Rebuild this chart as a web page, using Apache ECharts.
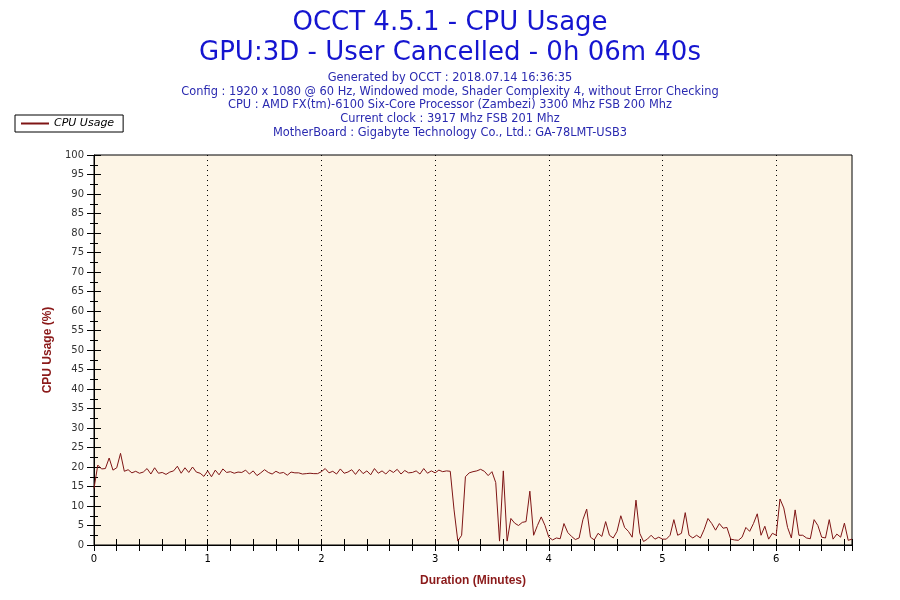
<!DOCTYPE html>
<html>
<head>
<meta charset="utf-8">
<script src="https://cdn.jsdelivr.net/npm/echarts@6/dist/echarts.min.js"></script>
<style>
  html, body { margin: 0; padding: 0; background: #fff; }
  #main { width: 900px; height: 600px; }
</style>
</head>
<body>
<div id="main"></div>
<script>
// OCCT CPU usage, one sample every 2 s, 0..400 s
var sampleStep = 2; // seconds
var cpuUsage = [
  14.5, 20.5, 19.5, 19.6, 22.3, 19.2, 19.8, 23.5, 18.9, 19.3,
  18.5, 18.9, 18.4, 18.7, 19.6, 18.2, 19.8, 18.4, 18.6, 18.1,
  18.7, 19.0, 20.2, 18.4, 19.8, 18.6, 20.0, 18.7, 18.4, 17.6,
  19.0, 17.5, 19.2, 18.0, 19.5, 18.6, 18.8, 18.4, 18.7, 18.6,
  19.2, 18.2, 19.0, 17.8, 18.5, 19.3, 18.6, 18.2, 18.9, 18.4,
  18.6, 17.9, 18.7, 18.5, 18.5, 18.2, 18.3, 18.4, 18.3, 18.3,
  18.8, 19.6, 18.5, 18.9, 18.2, 19.5, 18.4, 18.7, 19.3, 18.1,
  19.4, 18.3, 19.0, 18.0, 19.6, 18.4, 19.0, 18.2, 19.2, 18.6,
  19.4, 18.2, 19.1, 18.5, 18.6, 19.0, 18.2, 19.6, 18.4, 19.0,
  18.5, 19.2, 18.8, 19.0, 18.9, 9.0, 1.0, 2.5, 17.5, 18.5,
  18.8, 19.0, 19.4, 18.9, 17.8, 18.8, 16.0, 1.0, 19.0, 1.0,
  6.8, 5.6, 5.0, 5.8, 6.0, 13.8, 2.5, 5.0, 7.2, 5.0,
  2.0, 1.3, 1.8, 1.6, 5.5, 3.2, 2.2, 1.4, 1.8, 6.5,
  9.2, 2.0, 1.3, 3.0, 2.2, 6.0, 2.5, 1.8, 3.5, 7.5,
  4.5, 3.5, 2.0, 11.5, 3.0, 0.9, 1.5, 2.5, 1.5, 2.0,
  1.5, 1.5, 2.5, 6.5, 2.5, 3.0, 8.3, 2.5, 1.8, 2.5,
  1.8, 4.0, 6.8, 5.5, 3.8, 5.5, 4.3, 4.5, 1.5, 1.3,
  1.2, 2.0, 4.5, 3.5, 5.5, 8.0, 2.5, 4.8, 1.5, 3.0,
  2.5, 11.8, 9.5, 4.5, 1.8, 9.0, 2.5, 2.5, 1.8, 1.6,
  6.5, 5.0, 2.0, 1.8, 6.5, 1.5, 2.8, 2.0, 5.6, 1.2,
  1.5
];
var xTicks = [0, 1, 2, 3, 4, 5, 6];
var xMax = 400 / 60; // 6m40s

var titleLines = ['OCCT 4.5.1 - CPU Usage', 'GPU:3D - User Cancelled - 0h 06m 40s'];
var infoLines = [
  'Generated by OCCT : 2018.07.14 16:36:35',
  'Config : 1920 x 1080 @ 60 Hz, Windowed mode, Shader Complexity 4, without Error Checking',
  'CPU : AMD FX(tm)-6100 Six-Core Processor (Zambezi) 3300 Mhz FSB 200 Mhz',
  'Current clock : 3917 Mhz FSB 201 Mhz',
  'MotherBoard : Gigabyte Technology Co., Ltd.: GA-78LMT-USB3'
];

var points = cpuUsage.map(function (v, i) {
  return [i * sampleStep / 60, v];
});

var font = 'DejaVu Sans';
var myChart = echarts.init(document.getElementById('main'));
var option = {
  backgroundColor: '#fff',
  animation: false,
  title: [
    {
      text: titleLines.join('\n'),
      left: 'center',
      top: 3,
      textStyle: { color: '#1515d0', fontSize: 26, fontWeight: 'normal', fontFamily: font, lineHeight: 30 }
    },
    {
      text: infoLines.join('\n'),
      left: 'center',
      top: 66,
      textStyle: { color: '#2a2ab0', fontSize: 11.4, fontWeight: 'normal', fontFamily: font, lineHeight: 13.8 }
    }
  ],
  legend: {
    left: 15,
    top: 115,
    orient: 'vertical',
    backgroundColor: '#fff',
    borderColor: '#000',
    borderWidth: 1,
    borderRadius: 0,
    padding: [3, 9, 3, 6],
    itemWidth: 28,
    itemHeight: 2,
    itemGap: 0,
    icon: 'rect',
    textStyle: { color: '#000', fontSize: 11, fontStyle: 'italic', fontFamily: font },
    data: ['CPU Usage']
  },
  grid: {
    left: 94, right: 48, top: 155, bottom: 55,
    show: true,
    backgroundColor: '#fdf5e6',
    borderColor: '#000',
    borderWidth: 1
  },
  xAxis: [
    {
      type: 'value',
      min: 0, max: xMax, interval: 1,
      name: 'Duration (Minutes)',
      nameLocation: 'middle',
      nameGap: 30,
      nameTextStyle: { color: '#8b1a1a', fontWeight: 'bold', fontSize: 12, fontFamily: 'Liberation Sans' },
      axisLine: { lineStyle: { color: '#000' } },
      axisTick: { length: 6, lineStyle: { color: '#000' } },
      minorTick: { show: true, splitNumber: 5, length: 6, lineStyle: { color: '#000' } },
      axisLabel: {
        color: '#000', fontSize: 10, fontFamily: font, margin: 9,
        formatter: function (v) { return xTicks.indexOf(v) >= 0 ? String(v) : ''; }
      },
      splitLine: { show: true, showMinLine: false, showMaxLine: false, lineStyle: { color: '#000', type: [1, 4], width: 1 } }
    },
    {
      type: 'value', position: 'bottom',
      min: 0, max: xMax, interval: 1,
      axisLine: { show: false },
      axisTick: { inside: true, length: 6, lineStyle: { color: '#000' } },
      minorTick: { show: true, splitNumber: 5, length: 6, lineStyle: { color: '#000' } },
      axisLabel: { show: false },
      splitLine: { show: false }
    }
  ],
  yAxis: [
    {
      type: 'value',
      min: 0, max: 100, interval: 5,
      name: 'CPU Usage (%)',
      nameLocation: 'middle',
      nameGap: 37,
      nameTextStyle: { color: '#8b1a1a', fontWeight: 'bold', fontSize: 12, fontFamily: 'Liberation Sans' },
      axisLine: { show: true, lineStyle: { color: '#000' } },
      axisTick: { show: true, length: 7, lineStyle: { color: '#000' } },
      minorTick: { show: true, splitNumber: 2, length: 4, lineStyle: { color: '#000' } },
      axisLabel: { color: '#333', fontSize: 10, fontFamily: font, margin: 10 },
      splitLine: { show: false }
    },
    {
      type: 'value', position: 'left',
      min: 0, max: 100, interval: 5,
      axisLine: { show: false },
      axisTick: { show: true, inside: true, length: 7, lineStyle: { color: '#000' } },
      minorTick: { show: true, splitNumber: 2, length: 4, lineStyle: { color: '#000' } },
      axisLabel: { show: false },
      splitLine: { show: false }
    }
  ],
  series: [
    {
      name: 'CPU Usage',
      type: 'line',
      data: points,
      showSymbol: false,
      symbol: 'none',
      color: '#7f1515',
      lineStyle: { width: 1, color: '#7f1515' }
    }
  ]
};
myChart.setOption(option);
</script>
</body>
</html>
